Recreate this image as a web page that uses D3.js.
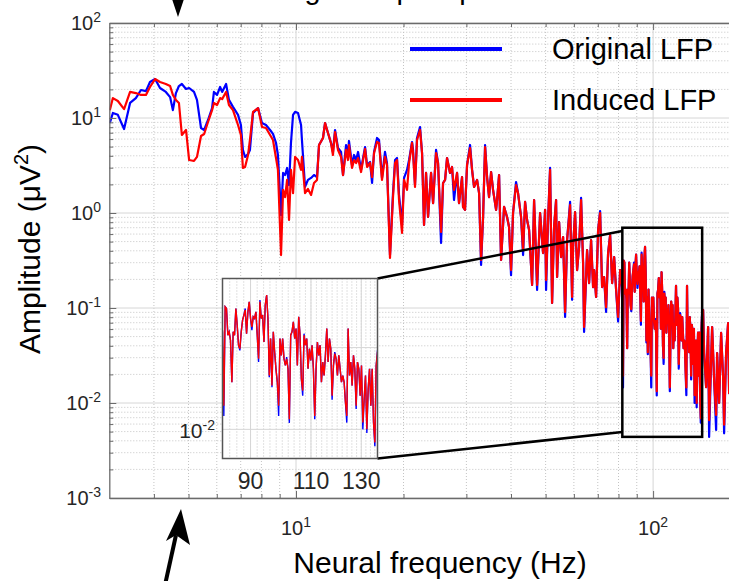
<!DOCTYPE html>
<html lang="en">
<head>
<meta charset="UTF-8">
<title>LFP spectra</title>
<script src="https://d3js.org/d3.v7.min.js"></script>
<style>
  body { margin: 0; background: #fff; }
  text { font-family: "Liberation Sans", Arial, sans-serif; }
</style>
</head>
<body>
<div class="canvas"></div>
<script>
// frequency bins (Hz)
const freq = [
  3.01, 3.07, 3.17, 3.30, 3.43, 3.56, 3.68, 3.80, 3.90, 4.03, 4.16, 4.32, 4.44, 4.52, 4.61, 4.70, 4.79, 4.92, 5.02, 5.18,
  5.28, 5.42, 5.53, 5.67, 5.82, 5.89, 6.01, 6.13, 6.21, 6.37, 6.49, 6.66, 6.88, 7.01, 7.10, 7.20, 7.34, 7.43, 7.58, 7.83,
  8.03, 8.24, 8.46, 8.62, 8.79, 8.90, 9.08,
  9.20, 9.32, 9.44, 9.56, 9.68, 9.81, 9.94, 10.13, 10.33, 10.39, 10.60, 10.80, 11.02, 11.23, 11.45, 11.60, 11.90, 12.06,
  12.29, 12.53, 12.69, 12.86, 13.11, 13.37, 13.54, 13.81, 13.98, 14.07, 14.35, 14.54, 14.73, 14.92, 15.21, 15.41, 15.61,
  15.81, 16.12, 16.33, 16.54, 16.86, 17.08, 17.41, 17.75, 17.98, 18.33, 18.69, 18.94, 19.18, 19.43, 19.81, 20.07, 20.46,
  20.73, 21.13, 21.27, 21.54,
  21.82, 22.25, 22.54, 22.83, 23.13, 23.43, 23.89, 24.20, 24.67, 24.99, 25.48, 25.81, 26.15, 26.48, 27.00, 27.35, 27.70,
  28.25, 28.61, 29.17, 29.36, 29.74, 30.13, 30.72, 31.12, 31.52, 32.14, 32.56, 32.98, 33.41, 33.84, 34.28, 34.72, 35.18,
  35.63, 36.33, 36.56, 37.04, 37.52, 38.25, 38.99, 39.50, 40.01, 40.53, 41.32, 41.86, 42.68, 43.24, 43.80, 44.37, 44.95,
  45.83, 46.42, 47.33,
  48.25, 49.19, 49.83, 50.15, 50.80, 51.46, 52.13, 52.81, 53.49, 53.84, 54.54, 55.25, 55.97, 56.69, 57.43, 58.55, 59.31,
  59.69, 60.47, 61.25, 62.05, 62.85, 63.67, 64.08, 65.33, 66.18, 67.04, 67.91, 68.35, 69.24, 70.14, 71.05, 71.97, 72.91,
  73.85, 74.81, 75.80, 76.78, 77.78, 78.78, 79.80, 80.84,
  82.00, 82.36, 82.73, 83.10, 83.47, 83.84, 84.21, 84.59, 84.96, 85.34, 85.72, 86.10, 86.48, 86.87, 87.26, 87.65, 88.04,
  88.43, 88.82, 89.22, 89.61, 90.01, 90.41, 90.81, 91.22, 91.62, 92.03, 92.44, 92.85, 93.26, 93.68, 94.10, 94.51, 94.94,
  95.36, 95.78, 96.21, 96.64, 97.07, 97.50, 97.93, 98.37, 98.81, 99.25, 99.69, 100.13, 100.58, 101.03, 101.47, 101.93,
  102.38, 102.84, 103.29, 103.75, 104.21, 104.68, 105.14, 105.61, 106.08, 106.55, 107.03, 107.50, 107.98, 108.46, 108.94,
  109.43, 109.92, 110.40, 110.89, 111.39, 111.88, 112.38, 112.88, 113.38, 113.89, 114.39, 114.90, 115.41, 115.93, 116.44,
  116.96, 117.48, 118.00, 118.53, 119.05, 119.58, 120.11, 120.65, 121.18, 121.72, 122.26, 122.81, 123.35, 123.90, 124.45,
  125.01, 125.56, 126.12, 126.68, 127.24, 127.81, 128.38, 128.95, 129.52, 130.10, 130.68, 131.26, 131.84, 132.43, 133.02,
  133.61, 134.20, 134.80, 135.40, 136.00, 136.60, 137.21,
  138.06, 138.96, 140.76, 142.59, 143.51, 145.37, 146.31, 148.21, 150.13, 151.10, 153.06, 155.04, 157.05, 158.07, 160.12,
  162.19, 163.24, 165.5, 168.0, 171.0
];

// original LFP amplitude (uV^2), blue
const originalLFP = [
  8.86, 11.3, 10.8, 7.66, 14.4, 16.2, 19.7, 19.2, 23.9, 25.7, 20.7, 18.8, 16.6, 12.1, 18.3, 21.7, 22.8, 20.2, 20.7, 18.8,
  15.5, 7.85, 7.48, 9.53, 12.7, 18.8, 17.5, 21.2, 18.8, 22.8, 15.5, 13.1, 10.8, 8.44, 4.61, 3.89, 4.18, 4.61, 11.3, 12.7,
  8.86, 8.44, 7.48, 6.79, 5.46, 4.08, 0.95,
  2.64, 2.51, 2.98, 1.97, 5.46, 10.8, 11.6, 11.3, 8.44, 5.87, 1.88, 2.23, 2.34, 2.51, 2.39, 5.20, 6.16, 8.86, 6.95, 5.46,
  4.39, 7.48, 4.83, 4.39, 2.51, 5.20, 4.08, 5.73, 3.20, 4.08, 3.61, 4.39, 2.84, 3.79, 4.95, 3.20, 3.44, 2.07, 4.39, 6.16,
  5.87, 2.34, 4.39, 3.36, 0.361, 1.62, 3.61, 3.79, 1.55, 0.748, 2.34, 2.84, 3.61, 5.59, 4.61, 1.97,
  6.16, 8.04, 4.28, 0.748, 2.64, 0.908, 2.64, 1.27, 4.61, 3.36, 0.483, 2.07, 2.23, 3.79, 2.64, 3.05, 1.37, 2.64, 1.27, 2.39,
  1.16, 1.08, 3.20, 5.20, 2.84, 1.88, 2.23, 1.62, 0.284, 0.908, 5.20, 2.39, 1.47, 2.70, 1.75, 1.08, 1.37, 2.51, 0.320, 1.16,
  0.908, 0.712, 0.222, 1.00, 2.12, 1.62, 0.908, 0.361, 1.31, 0.844, 0.662, 0.175, 1.37, 0.155,
  1.00, 0.379, 1.08, 0.155, 0.844, 2.98, 0.113, 0.712, 1.37, 0.212, 0.804, 0.344, 0.559, 0.0804, 0.520, 1.31, 0.122, 0.439,
  1.02, 0.251, 0.439, 1.44, 0.298, 0.056, 0.408, 0.183, 0.520, 0.166, 0.251, 0.131, 0.662, 1.05, 0.166, 0.212, 0.0908,
  0.379, 0.587, 0.183, 0.344, 0.155, 0.072, 0.251,
  0.156, 0.0146, 0.316, 0.301, 0.142, 0.156, 0.123, 0.0377, 0.156, 0.142, 0.301, 0.188, 0.107, 0.0925, 0.156, 0.217, 0.250,
  0.301, 0.148, 0.274, 0.364, 0.227, 0.163, 0.238, 0.227, 0.274, 0.142, 0.0665, 0.382, 0.227, 0.250, 0.117, 0.331, 0.440,
  0.227, 0.0434, 0.129, 0.0327, 0.156, 0.0882, 0.055, 0.0377, 0.0146, 0.129, 0.0803, 0.129, 0.073, 0.0605, 0.0766, 0.055,
  0.012, 0.142, 0.156, 0.207, 0.129, 0.171, 0.0605, 0.238, 0.142, 0.0414, 0.0258, 0.148, 0.107, 0.129, 0.055, 0.097, 0.0697,
  0.107, 0.055, 0.0133, 0.055, 0.117, 0.0803, 0.107, 0.0377, 0.0665, 0.0455, 0.0803, 0.171, 0.0665, 0.129, 0.097, 0.023,
  0.0605, 0.0882, 0.073, 0.0455, 0.0803, 0.055, 0.0377, 0.0455, 0.0377, 0.0214, 0.0121, 0.171, 0.0455, 0.0665, 0.0343,
  0.0803, 0.055, 0.0177, 0.0665, 0.055, 0.0258, 0.0605, 0.010, 0.0235, 0.0455, 0.009, 0.0312, 0.055, 0.0194, 0.055, 0.0121,
  0.0062, 0.0605, 0.0925,
  0.0953, 0.0336, 0.0147, 0.0631, 0.0044, 0.0284, 0.0631, 0.0175, 0.0052, 0.0336, 0.0100, 0.0546, 0.0188, 0.0048, 0.0336,
  0.0695, 0.0127, 0.046, 0.012, 0.04
];

// induced LFP amplitude (uV^2), red
const inducedLFP = [
  12.1, 16.2, 15.1, 12.4, 18.8, 18.3, 17.5, 17.5, 21.2, 25.7, 23.9, 22.8, 21.7, 17.5, 15.5, 14.4, 6.62, 7.48, 3.61, 3.53,
  3.89, 6.46, 6.79, 9.08, 12.1, 14.4, 13.7, 16.2, 15.8, 18.8, 13.7, 12.1, 8.44, 6.62, 2.98, 3.05, 4.08, 5.87, 11.6, 12.7,
  8.04, 7.85, 6.62, 5.87, 3.79, 2.84, 0.361,
  1.75, 1.47, 2.23, 0.844, 2.84, 1.62, 3.89, 3.61, 2.84, 3.89, 1.62, 1.79, 1.55, 2.07, 2.23, 5.20, 6.16, 8.86, 6.95, 5.46,
  4.08, 7.12, 4.61, 3.89, 2.51, 4.61, 3.61, 5.20, 2.98, 3.61, 3.36, 3.79, 2.70, 3.61, 4.72, 3.05, 3.36, 2.39, 4.28, 5.59,
  5.46, 2.23, 3.89, 3.20, 0.336, 1.47, 3.36, 3.61, 1.37, 0.616, 2.23, 1.75, 3.36, 5.46, 4.28, 1.88,
  5.87, 7.48, 4.28, 0.748, 2.64, 0.908, 2.64, 1.27, 4.28, 3.36, 0.631, 2.07, 2.23, 3.79, 2.64, 3.05, 1.75, 2.64, 1.27, 2.39,
  1.16, 1.08, 3.20, 4.83, 2.84, 1.88, 2.23, 1.62, 0.320, 0.908, 4.95, 2.39, 1.47, 2.70, 1.75, 1.08, 1.37, 2.51, 0.320, 1.16,
  0.908, 0.712, 0.251, 1.00, 1.97, 1.62, 0.908, 0.408, 1.31, 0.844, 0.662, 0.175, 1.37, 0.175,
  1.00, 0.379, 1.08, 0.197, 0.844, 2.84, 0.113, 0.712, 1.37, 0.212, 0.804, 0.344, 0.559, 0.0908, 0.520, 1.21, 0.131, 0.439,
  1.02, 0.251, 0.439, 1.37, 0.298, 0.0631, 0.408, 0.183, 0.520, 0.166, 0.251, 0.131, 0.662, 1.00, 0.166, 0.212, 0.102,
  0.379, 0.587, 0.183, 0.344, 0.155, 0.0804, 0.251,
  0.163, 0.0194, 0.316, 0.301, 0.142, 0.156, 0.123, 0.0377, 0.156, 0.142, 0.301, 0.188, 0.107, 0.097, 0.156, 0.217, 0.250,
  0.288, 0.148, 0.274, 0.364, 0.227, 0.179, 0.238, 0.227, 0.274, 0.142, 0.073, 0.364, 0.227, 0.250, 0.117, 0.331, 0.440,
  0.227, 0.0455, 0.129, 0.0343, 0.156, 0.0882, 0.055, 0.0377, 0.0194, 0.129, 0.0803, 0.129, 0.073, 0.0605, 0.073, 0.055,
  0.0133, 0.142, 0.156, 0.207, 0.129, 0.171, 0.0605, 0.238, 0.142, 0.0414, 0.0298, 0.142, 0.107, 0.129, 0.055, 0.097, 0.0697,
  0.107, 0.055, 0.0146, 0.055, 0.117, 0.0803, 0.107, 0.0377, 0.0665, 0.0455, 0.0803, 0.171, 0.0665, 0.129, 0.097, 0.0258,
  0.0605, 0.0842, 0.073, 0.0455, 0.0803, 0.055, 0.0377, 0.0455, 0.0377, 0.0214, 0.0146, 0.171, 0.0455, 0.0665, 0.0343,
  0.0803, 0.055, 0.0194, 0.0665, 0.055, 0.0258, 0.0605, 0.0121, 0.0235, 0.0455, 0.010, 0.0312, 0.055, 0.0194, 0.055, 0.0121,
  0.0069, 0.0605, 0.0882,
  0.0953, 0.0336, 0.0147, 0.0631, 0.0066, 0.0284, 0.0631, 0.0175, 0.0075, 0.0336, 0.0100, 0.0546, 0.0188, 0.0059, 0.0336,
  0.0695, 0.0127, 0.046, 0.012, 0.04
];

const xDomain = [3, 200];
const yDomain = [1e-3, 1e2];
const xMajor = [10, 100];
const xMinor = [4, 5, 6, 7, 8, 9, 20, 30, 40, 50, 60, 70, 80, 90, 200];
const yExp = [-3, -2, -1, 0, 1, 2];

// zoomed window (Hz, uV^2)
const zoomX = [82, 137.2];
const zoomY = [0.0044, 0.70];
const insetTicks = [90, 110, 130];
const insetYTicks = [1e-2];

const seriesNames = ['Original LFP', 'Induced LFP'];
const seriesColors = ['#0000ff', '#ff0000'];

const rows = freq.map((f, i) => ({ f: f, orig: originalLFP[i], ind: inducedLFP[i] }));

const W = 729, H = 581;
const svg = d3.select('.canvas').append('svg').attr('width', W).attr('height', H);

const x = d3.scaleLog().domain(xDomain).range([109.3, 760.6]);
const y = d3.scaleLog().domain(yDomain).range([498, 23]);
const [px0, px1] = x.range();
const [py0, py1] = y.range();

const gridC = '#d6d6d6', minorC = '#c4c4c4', axisC = '#6b6b6b', labelC = '#262626';

// grid
const grid = svg.append('g');
grid.selectAll('.vmin').data(xMinor).enter().append('line')
  .attr('x1', d => x(d)).attr('x2', d => x(d)).attr('y1', py1).attr('y2', py0)
  .attr('stroke', minorC).attr('stroke-dasharray', '1,2');
const yMinor = [];
yExp.slice(0, -1).forEach(e => { for (let k = 2; k <= 9; k++) yMinor.push(k * Math.pow(10, e)); });
grid.selectAll('.hmin').data(yMinor).enter().append('line')
  .attr('x1', px0).attr('x2', W).attr('y1', d => y(d)).attr('y2', d => y(d))
  .attr('stroke', minorC).attr('stroke-dasharray', '1,2');
grid.selectAll('.vmaj').data(xMajor).enter().append('line')
  .attr('x1', d => x(d)).attr('x2', d => x(d)).attr('y1', py1).attr('y2', py0)
  .attr('stroke', gridC);
grid.selectAll('.hmaj').data(yExp.map(e => Math.pow(10, e))).enter().append('line')
  .attr('x1', px0).attr('x2', W).attr('y1', d => y(d)).attr('y2', d => y(d))
  .attr('stroke', gridC);

// clip for data
svg.append('clipPath').attr('id', 'mainclip').append('rect')
  .attr('x', px0).attr('y', py1).attr('width', W - px0).attr('height', py0 - py1);

const mainLine = key => d3.line().x(d => x(d.f)).y(d => y(d[key]));
const plot = svg.append('g').attr('clip-path', 'url(#mainclip)');
plot.append('path').datum(rows).attr('d', mainLine('orig'))
  .attr('fill', 'none').attr('stroke', seriesColors[0]).attr('stroke-width', 2.2).attr('stroke-linejoin', 'round');
plot.append('path').datum(rows).attr('d', mainLine('ind'))
  .attr('fill', 'none').attr('stroke', seriesColors[1]).attr('stroke-width', 2.2).attr('stroke-linejoin', 'round');

// axes
const allX = xMajor.concat(xMinor);
const allY = yExp.map(e => Math.pow(10, e)).concat(yMinor);
const isMajor = d => Math.abs(Math.log10(d) - Math.round(Math.log10(d))) < 1e-6;

const gBottom = svg.append('g').attr('transform', `translate(0,${py0})`)
  .call(d3.axisBottom(x).tickValues(allX).tickFormat('').tickSizeOuter(0));
const gTop = svg.append('g').attr('transform', `translate(0,${py1})`)
  .call(d3.axisTop(x).tickValues(allX).tickFormat('').tickSizeOuter(0));
const gLeft = svg.append('g').attr('transform', `translate(${px0},0)`)
  .call(d3.axisLeft(y).tickValues(allY).tickFormat('').tickSizeOuter(0));
[gBottom, gTop, gLeft].forEach(g => {
  g.select('.domain').attr('stroke', axisC).attr('stroke-width', 1.3);
  g.selectAll('.tick line').attr('stroke', axisC);
});
gBottom.selectAll('.tick line').attr('y2', d => isMajor(d) ? -7 : -4);
gTop.selectAll('.tick line').attr('y2', d => isMajor(d) ? 7 : 4);
gLeft.selectAll('.tick line').attr('x2', d => isMajor(d) ? 7 : 4);

function powText(sel, exp, base, sup) {
  sel.append('tspan').attr('font-size', base).text('10');
  sel.append('tspan').attr('font-size', sup).attr('dy', -base * 0.42).text(exp);
}
yExp.forEach(e => {
  const t = svg.append('text').attr('x', 101).attr('y', y(Math.pow(10, e)) + 7)
    .attr('text-anchor', 'end').attr('fill', labelC);
  powText(t, String(e), 20, 14);
});
xMajor.forEach(v => {
  const t = svg.append('text').attr('x', x(v)).attr('y', 535)
    .attr('text-anchor', 'middle').attr('fill', labelC);
  powText(t, String(Math.round(Math.log10(v))), 20, 14);
});

// axis titles
svg.append('text').attr('x', 440).attr('y', 573).attr('text-anchor', 'middle')
  .attr('font-size', 30).attr('fill', '#000').text('Neural frequency (Hz)');
const yl = svg.append('text').attr('transform', 'translate(40,249) rotate(-90)')
  .attr('text-anchor', 'middle').attr('font-size', 30).attr('fill', '#000');
yl.append('tspan').text('Amplitude (\u03bcV');
yl.append('tspan').attr('font-size', 20).attr('dy', -12).text('2');
yl.append('tspan').attr('dy', 12).text(')');

// title, cut by the top edge of the figure as in the source
svg.append('text').attr('x', 415).attr('y', -1).attr('text-anchor', 'middle')
  .attr('font-size', 29).attr('fill', '#000').text('Original input spectrum');

// legend
const leg = svg.append('g');
seriesNames.forEach((n, i) => {
  const ly = 49 + i * 51;
  leg.append('line').attr('x1', 410).attr('x2', 502).attr('y1', ly).attr('y2', ly)
    .attr('stroke', seriesColors[i]).attr('stroke-width', 4);
  leg.append('text').attr('x', 552).attr('y', ly + 10).attr('font-size', 29).attr('fill', '#000').text(n);
});

// zoom rectangle on the main plot
svg.append('rect')
  .attr('x', x(zoomX[0])).attr('y', y(zoomY[1]))
  .attr('width', x(zoomX[1]) - x(zoomX[0])).attr('height', y(zoomY[0]) - y(zoomY[1]))
  .attr('fill', 'none').attr('stroke', '#000').attr('stroke-width', 2.5);

// inset
const ix = d3.scaleLog().domain(zoomX).range([222.5, 377.5]);
const iy = d3.scaleLog().domain(zoomY).range([458.5, 278.5]);
const [ix0, ix1] = ix.range();
const [iy0, iy1] = iy.range();

// connectors
svg.append('line').attr('x1', ix1).attr('y1', iy1).attr('x2', x(zoomX[0])).attr('y2', y(0.646))
  .attr('stroke', '#000').attr('stroke-width', 2.5);
svg.append('line').attr('x1', ix1).attr('y1', iy0).attr('x2', x(zoomX[0])).attr('y2', y(0.00495))
  .attr('stroke', '#000').attr('stroke-width', 2.5);

const inset = svg.append('g');
inset.append('rect').attr('x', ix0).attr('y', iy1).attr('width', ix1 - ix0).attr('height', iy0 - iy1)
  .attr('fill', '#fff');
const insetMinor = d3.range(84, 137, 2);
inset.selectAll('.imin').data(insetMinor).enter().append('line')
  .attr('x1', d => ix(d)).attr('x2', d => ix(d)).attr('y1', iy1).attr('y2', iy0)
  .attr('stroke', minorC).attr('stroke-dasharray', '1,2');
inset.selectAll('.imaj').data(insetTicks).enter().append('line')
  .attr('x1', d => ix(d)).attr('x2', d => ix(d)).attr('y1', iy1).attr('y2', iy0)
  .attr('stroke', gridC);
inset.selectAll('.ihmaj').data([1e-2, 1e-1]).enter().append('line')
  .attr('x1', ix0).attr('x2', ix1).attr('y1', d => iy(d)).attr('y2', d => iy(d))
  .attr('stroke', gridC);

svg.append('clipPath').attr('id', 'insetclip').append('rect')
  .attr('x', ix0).attr('y', iy1).attr('width', ix1 - ix0).attr('height', iy0 - iy1);
const insetRows = rows.filter(d => d.f >= 80 && d.f <= 139);
const insetLine = key => d3.line().x(d => ix(d.f)).y(d => iy(d[key]));
const ip = inset.append('g').attr('clip-path', 'url(#insetclip)');
ip.append('path').datum(insetRows).attr('d', insetLine('orig'))
  .attr('fill', 'none').attr('stroke', seriesColors[0]).attr('stroke-width', 1.4);
ip.append('path').datum(insetRows).attr('d', insetLine('ind'))
  .attr('fill', 'none').attr('stroke', seriesColors[1]).attr('stroke-width', 1.4);

inset.append('rect').attr('x', ix0).attr('y', iy1).attr('width', ix1 - ix0).attr('height', iy0 - iy1)
  .attr('fill', 'none').attr('stroke', '#555').attr('stroke-width', 1.5);

insetTicks.forEach(v => {
  inset.append('text').attr('x', ix(v)).attr('y', 489).attr('text-anchor', 'middle')
    .attr('font-size', 23).attr('fill', labelC).text(v);
});
insetYTicks.forEach(v => {
  const t = inset.append('text').attr('x', 215).attr('y', iy(v) + 9)
    .attr('text-anchor', 'end').attr('fill', labelC);
  powText(t, String(Math.round(Math.log10(v))), 21, 14);
});

// arrows
svg.append('path').attr('d', 'M171,-4 L185,-4 L178,17 Z').attr('fill', '#000');
svg.append('line').attr('x1', 165).attr('y1', 585).attr('x2', 176).attr('y2', 535)
  .attr('stroke', '#000').attr('stroke-width', 4);
svg.append('path').attr('d', 'M181,509 L190,545 L176,535 L166,541 Z').attr('fill', '#000');
</script>
</body>
</html>
